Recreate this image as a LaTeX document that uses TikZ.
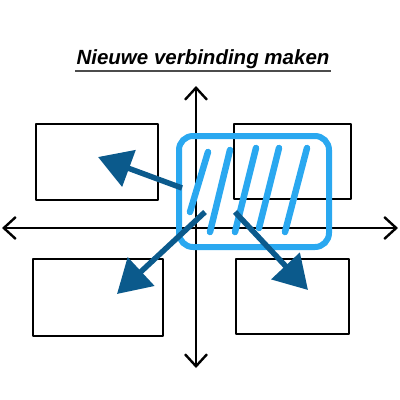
\documentclass[tikz,border=0pt]{standalone}
\usepackage{fontspec}
\setmainfont{Liberation Sans}
\usetikzlibrary{arrows.meta}
\definecolor{skyblue}{HTML}{2AA8F0}
\definecolor{deepblue}{HTML}{0B5A8C}
\tikzset{
  boxnode/.style={draw=black, line width=2.2pt, line join=round},
  axisline/.style={draw=black, line width=2.4pt, line cap=round, -{Straight Barb[length=12pt,width=22pt,line width=2.4pt]}},
  hatchline/.style={draw=skyblue, line width=6.5pt, line cap=round},
  pointer/.style={draw=deepblue, line width=5.5pt, -{Triangle[length=33pt,width=38pt]}},
}
\begin{document}
\begin{tikzpicture}[x=1pt,y=-1pt]
\useasboundingbox (0,0) rectangle (400,400);
% title
\node[inner sep=1pt] (title) at (203,59) {\fontsize{20.5}{22}\selectfont\bfseries\itshape Nieuwe verbinding maken};
\draw[line width=1.8pt, black!70] ([yshift=-1pt]title.south west) coordinate (ul1) -- ([yshift=-1pt]title.south east) coordinate (ul2);
% boxes
\node[boxnode, minimum width=122pt, minimum height=76pt, anchor=north west] (tl) at (35,123) {};
\node[boxnode, minimum width=117pt, minimum height=75pt, anchor=north west] (tr) at (233,123) {};
\node[boxnode, minimum width=130pt, minimum height=77pt, anchor=north west] (bl) at (32,258) {};
\node[boxnode, minimum width=113pt, minimum height=75pt, anchor=north west] (br) at (235,258) {};
% axes
\coordinate (c) at (196,228);
\coordinate (top) at (196,86);
\coordinate (bot) at (196,368);
\coordinate (lft) at (2,228);
\coordinate (rgt) at (398,228);
\draw[axisline] (c) -- (top);
\draw[axisline] (c) -- (bot);
\draw[axisline] (c) -- (lft);
\draw[axisline] (c) -- (rgt);
% selection rectangle
\node[draw=skyblue, line width=6pt, rounded corners=14pt, minimum width=150pt, minimum height=111pt, anchor=north west] (sel) at (176,133) {};
\coordinate (h1a) at (208,152); \coordinate (h1b) at (190,212);
\coordinate (h2a) at (230,150); \coordinate (h2b) at (210,232);
\coordinate (h3a) at (256,148); \coordinate (h3b) at (235,232);
\coordinate (h4a) at (279,148); \coordinate (h4b) at (259,228);
\coordinate (h5a) at (307,148); \coordinate (h5b) at (285,232);
\draw[hatchline] (h1a) -- (h1b);
\draw[hatchline] (h2a) -- (h2b);
\draw[hatchline] (h3a) -- (h3b);
\draw[hatchline] (h4a) -- (h4b);
\draw[hatchline] (h5a) -- (h5b);
% pointers
\coordinate (p1s) at (182,188); \coordinate (p1e) at (98,157);
\coordinate (p2s) at (205,212); \coordinate (p2e) at (117,294);
\coordinate (p3s) at (235,212); \coordinate (p3e) at (308,290);
\draw[pointer] (p1s) -- (p1e);
\draw[pointer] (p2s) -- (p2e);
\draw[pointer] (p3s) -- (p3e);
\end{tikzpicture}
\end{document}
